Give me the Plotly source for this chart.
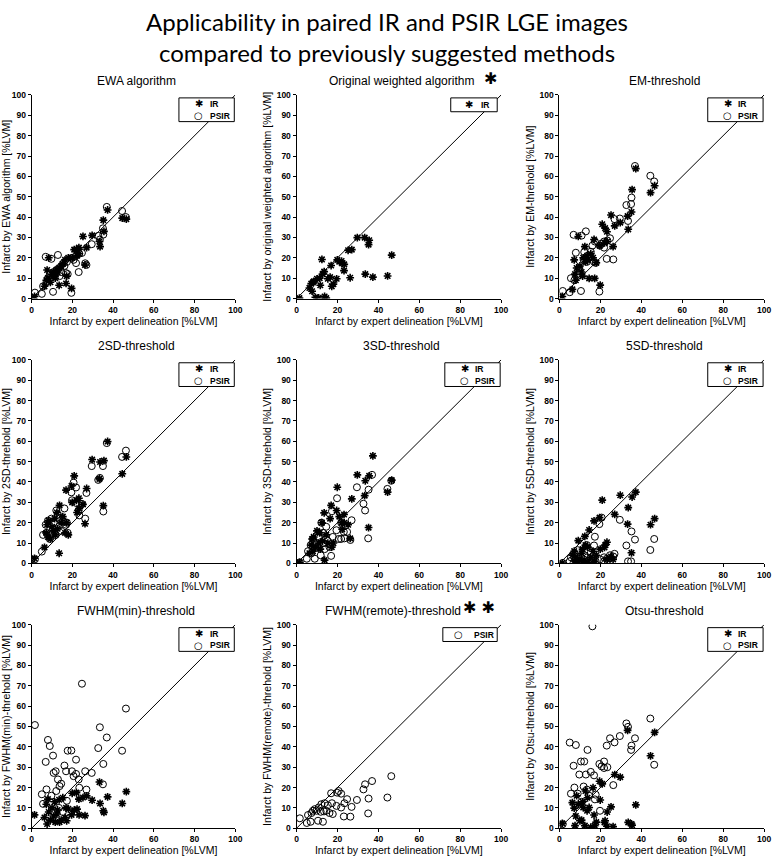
import plotly.graph_objects as go

# ── DATA ──────────────────────────────────────────────────────────────────────
# expert delineation (x) per patient, IR and PSIR images
X_IR = [1.4, 6.3, 7.2, 7.6, 8.0, 8.4, 9.2, 10.0, 10.8, 11.3,
        11.6, 12.4, 12.7, 13.5, 13.7, 14.5, 15.3, 16.4, 16.9, 17.2,
        18.0, 19.6, 19.9, 20.9, 22.0, 22.3, 23.2, 23.3, 25.2, 26.2,
        27.0, 29.7, 33.3, 33.6, 35.2, 35.5, 37.3, 44.5, 46.5]
X_PSIR = [1.6, 5.0, 5.6, 6.9, 7.3, 8.0, 8.9, 9.7, 10.5, 10.8,
          11.8, 12.1, 12.9, 13.4, 13.7, 14.5, 15.3, 16.1, 16.9, 17.3,
          17.7, 19.5, 19.8, 20.6, 21.8, 21.8, 23.1, 23.4, 24.7, 26.3,
          26.9, 29.5, 32.7, 33.5, 35.0, 35.2, 36.9, 44.4, 46.3]

# method results (y)
EWA_IR = [1, 6, 9, 14, 10, 20, 8, 12, 13, 11,
          10, 14, 13, 6.5, 15, 16, 17, 19, 7.4, 11,
          20, 5, 20, 24, 24, 21, 25, 22, 30.5, 16.5,
          25, 31, 28, 25.5, 38.5, 33, 43.5, 39.5, 39]
EWA_PSIR = [2.9, 2.3, 6, 20.5, 8, 10, 12, 19.5, 3.3, 13,
            12, 14, 21.4, 15, 11, 13, 17, 16, 12.5, 18,
            12, 2.8, 20, 19, 17.4, 21, 13, 22, 22.4, 17.3,
            16.5, 26.7, 30.8, 29, 34.5, 31.4, 45, 43, 40]

ORIG_IR = [0.2, 5.2, 7.3, 3.6, 7.9, 8.4, 0.6, 9.7, 0.3, 10,
           6.5, 19.2, 12, 13.2, 1, 0.2, 9.7, 10.5, 16.2, 6,
           7.1, 9.7, 19, 18.1, 18.4, 17.3, 13.7, 16.8, 23.7, 10.2,
           24, 29.9, 29.9, 12, 26.5, 28.6, 10.5, 11.1, 21.3]

EM_IR = [1, 4.5, 19, 12, 9, 15, 30.5, 16, 13, 11,
         20, 25.5, 18, 21, 19, 9.9, 22, 20, 29, 9.9,
         17.6, 26, 6.6, 36.5, 27.3, 34.6, 32.8, 28, 41, 25.5,
         35.7, 37.3, 40.5, 34, 42.5, 53.5, 63.8, 52, 55.4]
EM_PSIR = [3.7, 3.1, 10, 31.3, 9, 22.5, 12, 15, 3.7, 30.9,
           19, 22.8, 33, 18, 21, 20, 23, 26, 18, 28,
           17.5, 3.4, 26, 27, 25, 28, 19.5, 28.5, 29.6, 19.2,
           39, 39.3, 45.9, 38.1, 46.4, 49.6, 65.1, 60.3, 57.5]

SD2_IR = [2.5, 7.9, 15, 19, 13, 21, 12, 18, 16, 22,
          14, 25, 17, 5, 28.5, 20, 23, 15, 36, 20,
          14, 38, 30, 43, 31, 25, 32, 27, 29, 19.5,
          36.8, 51, 41.5, 49.8, 28.4, 50.5, 59.9, 44, 52.3]
SD2_PSIR = [2, 5.8, 14, 19, 15, 21, 12, 22, 17, 20,
            14, 26, 24, 18, 22, 16, 21, 27, 19, 20,
            15, 34.9, 31, 39.7, 29.7, 37.3, 26, 23.6, 29.2, 22,
            34.6, 47.8, 41, 42, 47.8, 25.5, 59.1, 52.3, 55.4]

SD3_IR = [0.5, 5, 9, 12, 6, 13, 8, 16, 10, 15,
          7, 20, 11, 24.8, 1.6, 14, 10, 22, 28.5, 8,
          10, 26, 37.4, 23, 20, 16.8, 24, 19.9, 19, 12.3,
          31.7, 43.5, 33.3, 40.6, 17.6, 43, 52.8, 35, 40.9]
SD3_PSIR = [0.5, 2.3, 6, 9, 5, 12, 2.3, 10, 8, 13,
            4, 20, 15, 10, 7, 18, 11, 8, 3.7, 25.6,
            13, 16.3, 32, 12, 12, 20, 15.5, 12.3, 15.5, 11.5,
            21.2, 37.4, 29.3, 26, 12.3, 36.2, 43.5, 36.6, 40.6]

SD5_IR = [0.2, 4, 6, 1, 3, 0.5, 11.2, 2, 5, 7,
          1, 13.3, 9, 0.5, 8, 16.4, 3, 6, 20.9, 1,
          4, 22.5, 7, 31.1, 7.9, 9, 10.4, 2, 3.4, 2,
          24.1, 33.5, 19.3, 27.4, 5.2, 32.6, 35, 19, 22]
SD5_PSIR = [0.2, 1, 3, 0.5, 5, 2, 6.5, 1, 3, 0.5,
            2, 4, 1, 9, 3, 0.5, 5, 2, 8.8, 13.1,
            1, 19.3, 2, 22.5, 1, 3, 2.3, 1.5, 4, 3.4,
            4.7, 21.4, 8.8, 1, 1, 15.7, 11.7, 6.6, 12]

FWHMMIN_IR = [6.6, 5.3, 11.8, 2.1, 14.3, 8, 4, 10, 6, 13,
              3, 7, 9, 14, 3, 4, 15, 5.3, 10, 3.7,
              9.5, 6.6, 17.2, 8.9, 17.5, 9.4, 14.3, 6.6, 15.1, 6.2,
              15.9, 13.8, 22.7, 12.2, 8.6, 7.8, 15.4, 12.2, 18]
FWHMMIN_PSIR = [50.7, 16.7, 12, 32.6, 19.1, 43.4, 40.4, 16, 35.7, 27.2,
                28, 18.3, 24, 10, 20.7, 21.9, 8, 30.8, 28, 13.5,
                38.1, 38.2, 28, 25.6, 33.7, 26.7, 24, 19.9, 71, 28,
                19, 27.2, 39.4, 49.6, 21.6, 31.6, 44.6, 38.1, 58.8]

FWHMREM_PSIR = [4.9, 2.6, 6.5, 3.2, 7.5, 8.6, 9.4, 8.6, 3.7, 10.2,
                8.1, 11.8, 3.2, 8.3, 12.3, 8.6, 11.3, 7.5, 17.2, 12.3,
                7.0, 11.0, 17.5, 18.3, 17.0, 10.2, 5.8, 12.3, 14.3, 5.7,
                10.5, 13.9, 19.1, 21.6, 7.3, 14.6, 23.2, 15.1, 25.6]

OTSU_IR = [2.4, 12.6, 9.9, 1.3, 6, 16, 11.8, 3.7, 4, 13,
           10.2, 1.3, 18.3, 8.6, 15, 10.2, 0.5, 19.9, 6.5, 1.3,
           3, 23.1, 13.9, 21.8, 2.9, 3.7, 1, 8, 10.5, 0.8,
           26.4, 25.1, 48.1, 2.9, 2.1, 1.5, 11.5, 35.6, 47.1]
OTSU_PSIR = [2, 42.1, 17, 30.7, 20, 40.9, 17, 26.4, 32.8, 13,
             20.5, 32.8, 26.4, 19, 38.5, 16, 27.7, 99.2, 26, 14.2,
             16.5, 31.6, 8.6, 30.4, 32.8, 29.6, 40.6, 30, 44.2, 21.2,
             42.2, 45.3, 51.5, 49.8, 38.5, 40.6, 44.2, 53.9, 31.2]

PANEL_TITLES = ["EWA algorithm", "Original weighted algorithm", "EM-threshold",
                "2SD-threshold", "3SD-threshold", "5SD-threshold",
                "FWHM(min)-threshold", "FWHM(remote)-threshold", "Otsu-threshold"]
Y_LABELS = ["EWA algorithm", "original weighted algorithm", "EM-threhold",
            "2SD-threhold", "3SD-threhold", "5SD-threhold",
            "FWHM(min)-threhold", "FWHM(remote)-threhold", "Otsu-threhold"]
IR_DATA = [EWA_IR, ORIG_IR, EM_IR, SD2_IR, SD3_IR, SD5_IR, FWHMMIN_IR, None, OTSU_IR]
PSIR_DATA = [EWA_PSIR, None, EM_PSIR, SD2_PSIR, SD3_PSIR, SD5_PSIR, FWHMMIN_PSIR, FWHMREM_PSIR, OTSU_PSIR]
STARS = ["", "✱", "", "", "", "", "", "✱ ✱", ""]

# ── LAYOUT GEOMETRY (pixels) ─────────────────────────────────────────────────
W, H = 778, 857
COLS = [(30, 236), (298, 505), (564, 771)]
ROWS = [(91, 297), (359, 565), (627, 833)]
TITLE_DX = [3, 3, 3, 3, 3, 3, 3, -6, 3]     # nudge of panel titles from axes centre
STAR_X = [0, 487, 0, 0, 0, 0, 0, 465, 0]     # left edge of the stars

FAM = "Liberation Sans, Arial"
TICKFONT = dict(family=FAM, size=8.5, color="black", weight="bold")
LABFONT = dict(family=FAM, size=10.5, color="black")
LEGFONT = dict(family=FAM, size=8.5, color="black", weight="bold")


def px(x):
    return x / W


def py(y):
    return 1 - y / H


fig = go.Figure()
annotations = []
shapes = []
layout = dict(
    width=W, height=H,
    margin=dict(l=0, r=0, t=0, b=0),
    paper_bgcolor="white", plot_bgcolor="white",
    showlegend=False,
)

for i in range(9):
    r, c = divmod(i, 3)
    n = i + 1
    xa = "x" if n == 1 else f"x{n}"
    ya = "y" if n == 1 else f"y{n}"
    x0, x1 = COLS[c]
    y0, y1 = ROWS[r]

    # identity line
    fig.add_trace(go.Scatter(x=[0, 100], y=[0, 100], mode="lines",
                             line=dict(color="black", width=1),
                             xaxis=xa, yaxis=ya, hoverinfo="skip"))
    entries = []
    if IR_DATA[i] is not None:
        fig.add_trace(go.Scatter(x=X_IR, y=IR_DATA[i], mode="markers", name="IR",
                                 marker=dict(symbol="asterisk", size=6.5, color="black",
                                             line=dict(color="black", width=1.6)),
                                 xaxis=xa, yaxis=ya))
        entries.append(("✱", "IR", 10))
    if PSIR_DATA[i] is not None:
        fig.add_trace(go.Scatter(x=X_PSIR, y=PSIR_DATA[i], mode="markers", name="PSIR",
                                 marker=dict(symbol="circle-open", size=7, color="black",
                                             line=dict(color="black", width=1)),
                                 xaxis=xa, yaxis=ya))
        entries.append(("○", "PSIR", 10))

    xkey = "xaxis" if n == 1 else f"xaxis{n}"
    ykey = "yaxis" if n == 1 else f"yaxis{n}"
    layout[xkey] = dict(
        domain=[px(x0), px(x1)], anchor=ya, range=[0, 100], dtick=20,
        showline=True, linecolor="black", linewidth=1, mirror=False,
        ticks="outside", ticklen=3, tickcolor="black", tickfont=TICKFONT,
        showgrid=False, zeroline=False,
        title=dict(text="Infarct by expert delineation [%LVM]", font=LABFONT, standoff=1),
    )
    layout[ykey] = dict(
        domain=[py(y1), py(y0)], anchor=xa, range=[0, 100], dtick=10,
        showline=True, linecolor="black", linewidth=1, mirror=False,
        ticks="outside", ticklen=3, tickcolor="black", tickfont=TICKFONT,
        showgrid=False, zeroline=False,
        title=dict(text=f"Infarct by {Y_LABELS[i]} [%LVM]", font=LABFONT, standoff=2),
    )

    # legend box drawn by hand (compact, matlab-like)
    if len(entries) == 2:
        bw, bh, bright = 56, 24, x1 - 1
        sym_dx, txt_dx = 20, 29
    elif entries[0][1] == "IR":
        bw, bh, bright = 47, 14, x1 - 4
        sym_dx, txt_dx = 18, 29
    else:
        bw, bh, bright = 55, 14, x1 - 4
        sym_dx, txt_dx = 16, 29
    btop = y0 + 3
    bleft = bright - bw
    shapes.append(dict(type="rect", xref="paper", yref="paper",
                       x0=px(bleft), x1=px(bright), y0=py(btop + bh), y1=py(btop),
                       line=dict(color="black", width=1), fillcolor="white", layer="above"))
    row_h = bh / len(entries)
    for k, (sym, lab, sz) in enumerate(entries):
        cy = btop + row_h * (k + 0.5)
        annotations.append(dict(text=sym, x=px(bleft + sym_dx), y=py(cy), xref="paper", yref="paper",
                                xanchor="center", yanchor="middle", showarrow=False,
                                font=dict(family="DejaVu Sans", size=sz, color="black")))
        annotations.append(dict(text=lab, x=px(bleft + txt_dx), y=py(cy), xref="paper", yref="paper",
                                xanchor="left", yanchor="middle", showarrow=False, font=LEGFONT))

    # panel title, centred on the axes; significance stars hang off to the right
    annotations.append(dict(
        text=PANEL_TITLES[i], x=px((x0 + x1) / 2 + TITLE_DX[i]), y=py(y0 - 14),
        xref="paper", yref="paper", xanchor="center", yanchor="middle",
        showarrow=False, font=dict(family=FAM, size=12, color="black"), borderpad=0,
    ))
    if STARS[i]:
        annotations.append(dict(
            text=STARS[i], x=px(STAR_X[i]), y=py(y0 - 17),
            xref="paper", yref="paper", xanchor="left", yanchor="middle",
            showarrow=False, font=dict(family="DejaVu Sans", size=16, color="black"), borderpad=0,
        ))

annotations.append(dict(
    text="Applicability in paired IR and PSIR LGE images<br>compared to previously suggested methods",
    x=px(389), y=py(32), xref="paper", yref="paper",
    xanchor="center", yanchor="middle", showarrow=False,
    font=dict(family="Lato, Open Sans", size=24, color="black"),
))

layout["annotations"] = annotations
layout["shapes"] = shapes
fig.update_layout(**layout)
fig.write_html("out.html", config={"displayModeBar": False},
               post_script="document.body.style.margin='0';document.body.style.overflow='hidden';")
